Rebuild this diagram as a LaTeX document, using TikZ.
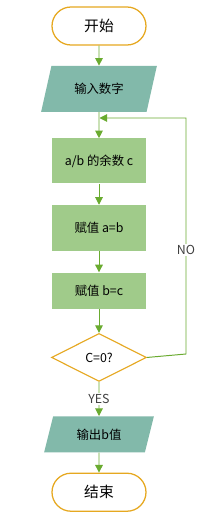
\documentclass[tikz,border=0pt]{standalone}
\usepackage{fontspec}
\setmainfont{Noto Sans CJK SC}
\usepackage{tikz}
\usetikzlibrary{positioning, arrows.meta, shapes.geometric}

\definecolor{termline}{RGB}{230,168,32}
\definecolor{iofill}{RGB}{130,185,170}
\definecolor{boxfill}{RGB}{160,203,138}
\definecolor{arrgreen}{RGB}{106,171,48}

\begin{document}
\begin{tikzpicture}[
  every node/.style={font=\fontsize{8.8}{10}\selectfont},
  term/.style={draw=termline, line width=0.9pt, fill=white, rounded corners=0.475cm,
    minimum width=2.35cm, minimum height=0.95cm, font=\fontsize{10.5}{12}\selectfont},
  io/.style={trapezium, trapezium left angle=65, trapezium right angle=115,
    trapezium stretches=true, fill=iofill, inner sep=0pt, minimum width=2.9cm},
  proc/.style={rectangle, fill=boxfill, minimum width=2.35cm, inner sep=0pt},
  cond/.style={diamond, draw=termline, line width=0.8pt, fill=white, inner sep=0pt,
    minimum width=2.375cm, minimum height=1.2cm},
  lbl/.style={fill=white, inner sep=1pt, text=black!75},
  arr/.style={-{Triangle[length=1.9mm, width=1.9mm]}, draw=arrgreen, line width=0.7pt}
]
  \useasboundingbox (0,0) rectangle (5.325,-12.825);

  \node[term] (start) at (2.475,-0.65) {开始};
  \node[io, minimum height=1.15cm, below=0.5cm of start] (in) {输入数字};
  \node[proc, minimum height=1.125cm, below=0.65cm of in] (rem) {a/b 的余数 c};
  \node[proc, minimum height=1.15cm, below=0.525cm of rem] (seta) {赋值 a=b};
  \node[proc, minimum height=0.9cm, below=0.525cm of seta] (setb) {赋值 b=c};
  \node[cond, below=0.6cm of setb] (test) {C=0?};
  \node[io, minimum height=0.9cm, minimum width=2.75cm, trapezium left angle=69,
    trapezium right angle=111, below=0.85cm of test] (out) {输出b值};
  \node[term, below=0.5cm of out] (stop) {结束};

  % loop back
  \coordinate (join) at (2.475,-2.95);
  \coordinate (corner) at (4.65,-8.85);
  \coordinate (top) at (4.65,-2.95);

  \draw[arr] (start) -- (in);
  \draw[arr] (in) -- (rem);
  \draw[arr] (rem) -- (seta);
  \draw[arr] (seta) -- (setb);
  \draw[arr] (setb) -- (test);
  \draw[arr] (test) -- node[lbl] {YES} (out);
  \draw[arr] (out) -- (stop);
  \draw[arr] (test.east) -- (corner) -- node[lbl, pos=0.44] {NO} (top) -- ([xshift=0.35pt]join);
\end{tikzpicture}
\end{document}
